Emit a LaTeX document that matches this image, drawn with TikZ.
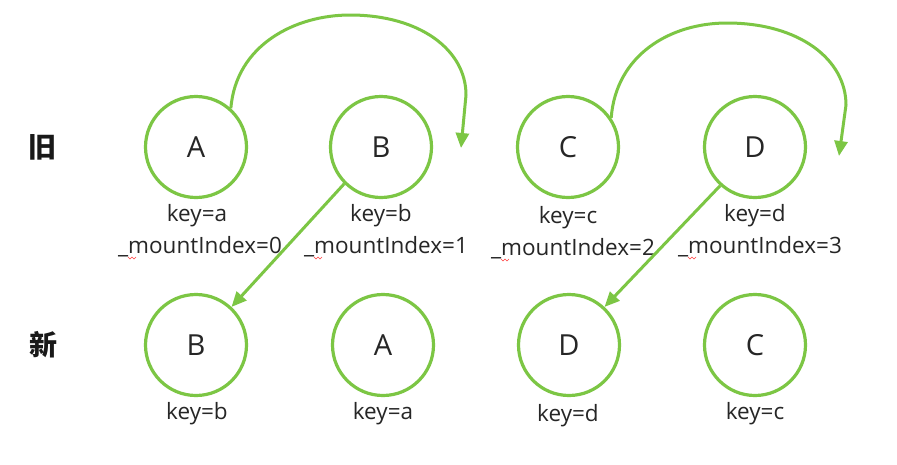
\documentclass[tikz,border=0pt]{standalone}
\usepackage{fontspec}
\setmainfont{Open Sans}
\newfontfamily\cjk{Noto Sans CJK SC}
\usetikzlibrary{arrows.meta}
\definecolor{gr}{RGB}{124,198,68}
\begin{document}
\begin{tikzpicture}[x=1pt,y=-1pt,
  circ/.style={circle, draw=gr, line width=3.2pt, minimum size=101pt, inner sep=0pt, font=\fontsize{29}{29}\selectfont, text=black!85},
  lbl/.style={font=\fontsize{22.5}{26}\selectfont, text=black!85, inner sep=0pt},
  cjkl/.style={font=\cjk\bfseries\fontsize{28}{28}\selectfont, text=black!90},
  arr/.style={draw=gr, line width=3pt, -{Triangle[length=15pt,width=13pt]}},
  squig/.style={draw=red!75, line width=0.6pt}]
\useasboundingbox[fill=white] (0,0) rectangle (897,464);
% row labels
\node[cjkl] (old) at (42,147) {旧};
\node[cjkl] (new) at (43,345) {新};
% top row
\node[circ] (A1) at (196,147) {A};
\node[circ] (B1) at (381,147) {B};
\node[circ] (C1) at (568,147) {C};
\node[circ] (D1) at (755,147) {D};
% bottom row
\node[circ] (B2) at (196,345) {B};
\node[circ] (A2) at (383,345) {A};
\node[circ] (D2) at (569,345) {D};
\node[circ] (C2) at (755,345) {C};
% top labels
\node[lbl] (ka) at (197,216) {key=a};
\node[lbl] (kb) at (381,216) {key=b};
\node[lbl] (kc) at (568,218) {key=c};
\node[lbl] (kd) at (755,216) {key=d};
\node[lbl] (ma) at (200,247) {\_mountIndex=0};
\node[lbl] (mb) at (386,247) {\_mountIndex=1};
\node[lbl] (mc) at (573,249) {\_mountIndex=2};
\node[lbl] (md) at (760,247) {\_mountIndex=3};
% bottom labels
\node[lbl] (kb2) at (197,414) {key=b};
\node[lbl] (ka2) at (383,414) {key=a};
\node[lbl] (kd2) at (568,416) {key=d};
\node[lbl] (kc2) at (755,414) {key=c};
% spell-check squiggles
\draw[squig] (128,257) -- ++(2,2) -- ++(2,-2) -- ++(2,2) -- ++(2,-2);
\draw[squig] (314,257) -- ++(2,2) -- ++(2,-2) -- ++(2,2) -- ++(2,-2);
\draw[squig] (501,259) -- ++(2,2) -- ++(2,-2) -- ++(2,2) -- ++(2,-2);
\draw[squig] (688,257) -- ++(2,2) -- ++(2,-2) -- ++(2,2) -- ++(2,-2);
% straight arrows
\draw[arr] (B1.225) -- (B2.47);
\draw[arr] (D1.228) -- (D2.47);
% arcs
\coordinate (t1) at (461,148);
\coordinate (t2) at (839,156);
\draw[arr] (A1.48) .. controls (236,45) and (295,15) .. (350,15)
  .. controls (420,15) and (466,50) .. (466,95) -- (t1);
\draw[arr] (C1.34) .. controls (616,55) and (670,23) .. (727,23)
  .. controls (800,23) and (846,60) .. (846,105) -- (t2);
\end{tikzpicture}
\end{document}
